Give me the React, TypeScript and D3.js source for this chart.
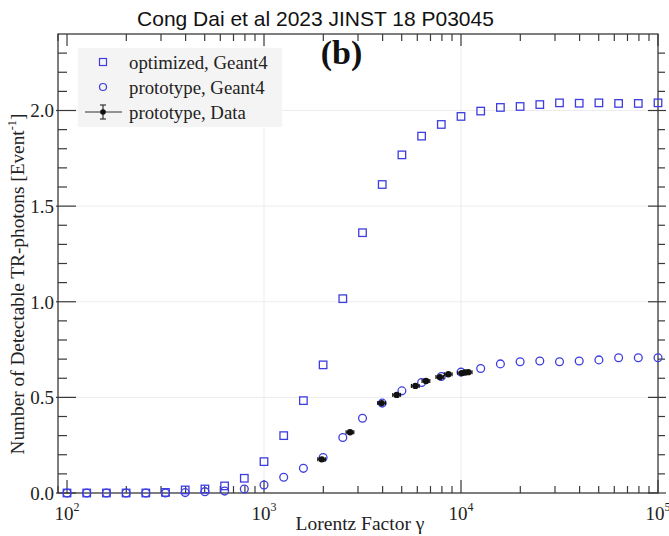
import React from "react";
import * as d3 from "d3";

const W = 669;
const H = 536;

const title = "Cong Dai et al 2023 JINST 18 P03045";
const panelLabel = "(b)";
const xLabel = "Lorentz Factor \u03b3";
const yLabelMain = "Number of Detectable TR-photons [Event";
const yLabelSup = "-1";
const legendLabels = ["optimized, Geant4", "prototype, Geant4", "prototype, Data"];

// Geant4 simulation points: gamma = 10^(2 + 0.1 k)
const simLogGamma = d3.range(0, 31).map((k) => 2 + 0.1 * k);
const optimizedGeant4 = [
  0.0, 0.0, 0.0, 0.0, 0.0, 0.003, 0.016, 0.021, 0.037, 0.077, 0.164,
  0.3, 0.483, 0.67, 1.016, 1.361, 1.613, 1.768, 1.866, 1.927, 1.969,
  1.997, 2.016, 2.021, 2.031, 2.04, 2.038, 2.04, 2.037, 2.037, 2.04,
];
const prototypeGeant4 = [
  0.0, 0.0, 0.0, 0.0, 0.0, 0.0, 0.002, 0.007, 0.01, 0.021, 0.042,
  0.082, 0.129, 0.186, 0.29, 0.391, 0.47, 0.534, 0.578, 0.609, 0.632,
  0.651, 0.675, 0.686, 0.69, 0.686, 0.69, 0.696, 0.707, 0.707, 0.707,
];

const dataGamma = [1963, 2734, 3956, 4716, 5866, 6643, 7816, 8621, 10090, 10480, 10880];
const dataValue = [0.176, 0.318, 0.47, 0.513, 0.56, 0.586, 0.606, 0.621, 0.627, 0.63, 0.632];
const dataGammaErr = [88, 123, 178, 212, 264, 299, 352, 388, 454, 472, 490];
const dataValueErr = [0.01, 0.01, 0.01, 0.01, 0.01, 0.01, 0.01, 0.01, 0.01, 0.01, 0.01];

const yMajorTicks = [0, 0.5, 1.0, 1.5, 2.0];
const xMajorExps = [2, 3, 4, 5];

const BLUE = "#3d3de0";
const FRAME = "#3a3a3a";
const GRID = "#ececec";
const SERIF = "'Liberation Serif', 'Times New Roman', serif";
const SANS = "'Liberation Sans', Arial, sans-serif";

export default function App() {
  const left = 58, right = 658, top = 34, bottom = 493;
  const x = d3.scaleLog().domain([90, 1e5]).range([left, right]);
  const y = d3.scaleLinear().domain([0, 2.4]).range([bottom, top]);

  const xMinor: number[] = [];
  for (let e = 1; e <= 4; e++) {
    for (let m = 2; m <= 9; m++) {
      const v = m * Math.pow(10, e);
      if (v >= 90 && v <= 1e5) xMinor.push(v);
    }
  }
  const yMinor = d3.range(0, 24).map((i) => i * 0.1).filter((v) => Math.abs(v * 2 - Math.round(v * 2)) > 1e-6);

  const sq = 7.5;
  return (
    <svg width={W} height={H} style={{ position: "absolute", left: 0, top: 0, background: "#fff" }}>
      <rect x={0} y={0} width={W} height={H} fill="#fff" />
      {/* grid */}
      {xMajorExps.slice(1, 3).map((e) => (
        <line key={"gx" + e} x1={x(Math.pow(10, e))} x2={x(Math.pow(10, e))} y1={top} y2={bottom} stroke={GRID} strokeWidth={1} />
      ))}
      {yMajorTicks.slice(1).map((v) => (
        <line key={"gy" + v} x1={left} x2={right} y1={y(v)} y2={y(v)} stroke={GRID} strokeWidth={1} />
      ))}

      {/* legend box */}
      <rect x={78} y={48} width={204} height={79} fill="#f4f4f4" />

      {/* frame */}
      <rect x={left} y={top} width={right - left} height={bottom - top} fill="none" stroke={FRAME} strokeWidth={1.3} />

      {/* x ticks */}
      {xMajorExps.map((e) => {
        const px = x(Math.pow(10, e));
        return (
          <g key={"xt" + e}>
            <line x1={px} x2={px} y1={bottom} y2={bottom - 13} stroke={FRAME} strokeWidth={1.2} />
            <line x1={px} x2={px} y1={top} y2={top + 12} stroke={FRAME} strokeWidth={1.2} />
            <text x={px} y={520} textAnchor="middle" fontFamily={SERIF} fontSize={19} fill="#222">
              10<tspan fontSize={12} dy={-9}>{e}</tspan>
            </text>
          </g>
        );
      })}
      {xMinor.map((v) => (
        <g key={"xm" + v}>
          <line x1={x(v)} x2={x(v)} y1={bottom} y2={bottom - 7} stroke={FRAME} strokeWidth={1.2} />
          <line x1={x(v)} x2={x(v)} y1={top} y2={top + 7} stroke={FRAME} strokeWidth={1.2} />
        </g>
      ))}

      {/* y ticks */}
      {yMajorTicks.map((v) => (
        <g key={"yt" + v}>
          <line x1={left - 2} x2={left + 18} y1={y(v)} y2={y(v)} stroke={FRAME} strokeWidth={1.2} />
          <line x1={right - 10} x2={right + 8} y1={y(v)} y2={y(v)} stroke={FRAME} strokeWidth={1.2} />
          <text x={54} y={y(v)} dy="0.36em" textAnchor="end" fontFamily={SERIF} fontSize={19} fill="#222">
            {v.toFixed(1)}
          </text>
        </g>
      ))}
      {yMinor.map((v) => (
        <g key={"ym" + v}>
          <line x1={left} x2={left + 9} y1={y(v)} y2={y(v)} stroke={FRAME} strokeWidth={1.2} />
          <line x1={right} x2={right + 7} y1={y(v)} y2={y(v)} stroke={FRAME} strokeWidth={1.2} />
        </g>
      ))}

      {/* optimized squares */}
      {optimizedGeant4.map((v, i) => {
        const px = x(Math.pow(10, simLogGamma[i]));
        return (
          <rect key={"sq" + i} x={px - sq / 2} y={y(v) - sq / 2} width={sq} height={sq} fill="none" stroke={BLUE} strokeWidth={1.3} />
        );
      })}
      {/* prototype circles */}
      {prototypeGeant4.map((v, i) => {
        const px = x(Math.pow(10, simLogGamma[i]));
        return <circle key={"c" + i} cx={px} cy={y(v)} r={3.9} fill="none" stroke={BLUE} strokeWidth={1.3} />;
      })}
      {/* data */}
      {dataGamma.map((g, i) => {
        const px = x(g);
        const py = y(dataValue[i]);
        const x0 = x(g - dataGammaErr[i]);
        const x1 = x(g + dataGammaErr[i]);
        const y0 = y(dataValue[i] - dataValueErr[i]);
        const y1 = y(dataValue[i] + dataValueErr[i]);
        return (
          <g key={"d" + i}>
            <line x1={x0} x2={x1} y1={py} y2={py} stroke="#111" strokeWidth={1.2} />
            <line x1={x0} x2={x0} y1={py - 2} y2={py + 2} stroke="#111" strokeWidth={1.2} />
            <line x1={x1} x2={x1} y1={py - 2} y2={py + 2} stroke="#111" strokeWidth={1.2} />
            <line x1={px} x2={px} y1={y0} y2={y1} stroke="#111" strokeWidth={1.2} />
            <circle cx={px} cy={py} r={3.2} fill="#111" />
          </g>
        );
      })}

      {/* legend */}
      <rect x={103 - 3.5} y={62 - 3.5} width={7} height={7} fill="none" stroke={BLUE} strokeWidth={1.2} />
      <circle cx={103} cy={87} r={3.5} fill="none" stroke={BLUE} strokeWidth={1.2} />
      <line x1={85} x2={122} y1={112} y2={112} stroke="#333" strokeWidth={1.2} />
      <line x1={103} x2={103} y1={105} y2={119} stroke="#333" strokeWidth={1.2} />
      <line x1={100} x2={106} y1={105} y2={105} stroke="#333" strokeWidth={1.2} />
      <line x1={100} x2={106} y1={119} y2={119} stroke="#333" strokeWidth={1.2} />
      <circle cx={103} cy={112} r={2.8} fill="#111" />
      {legendLabels.map((t, i) => (
        <text key={"lg" + i} x={129} y={62 + 25 * i} dy="0.35em" fontFamily={SERIF} fontSize={18.8} fill="#222">
          {t}
        </text>
      ))}

      {/* labels */}
      <text x={315.5} y={26} textAnchor="middle" fontFamily={SANS} fontSize={21} fill="#111">
        {title}
      </text>
      <text x={341.5} y={64} textAnchor="middle" fontFamily={SERIF} fontSize={34} fontWeight="bold" fill="#111">
        {panelLabel}
      </text>
      <text x={360} y={530} textAnchor="middle" fontFamily={SERIF} fontSize={19.5} fill="#222">
        {xLabel}
      </text>
      <text transform="translate(24,284) rotate(-90)" textAnchor="middle" fontFamily={SERIF} fontSize={19.3} fill="#222">
        {yLabelMain}
        <tspan fontSize={12.5} dy={-8}>{yLabelSup}</tspan>
        <tspan dy={8}>]</tspan>
      </text>
    </svg>
  );
}
